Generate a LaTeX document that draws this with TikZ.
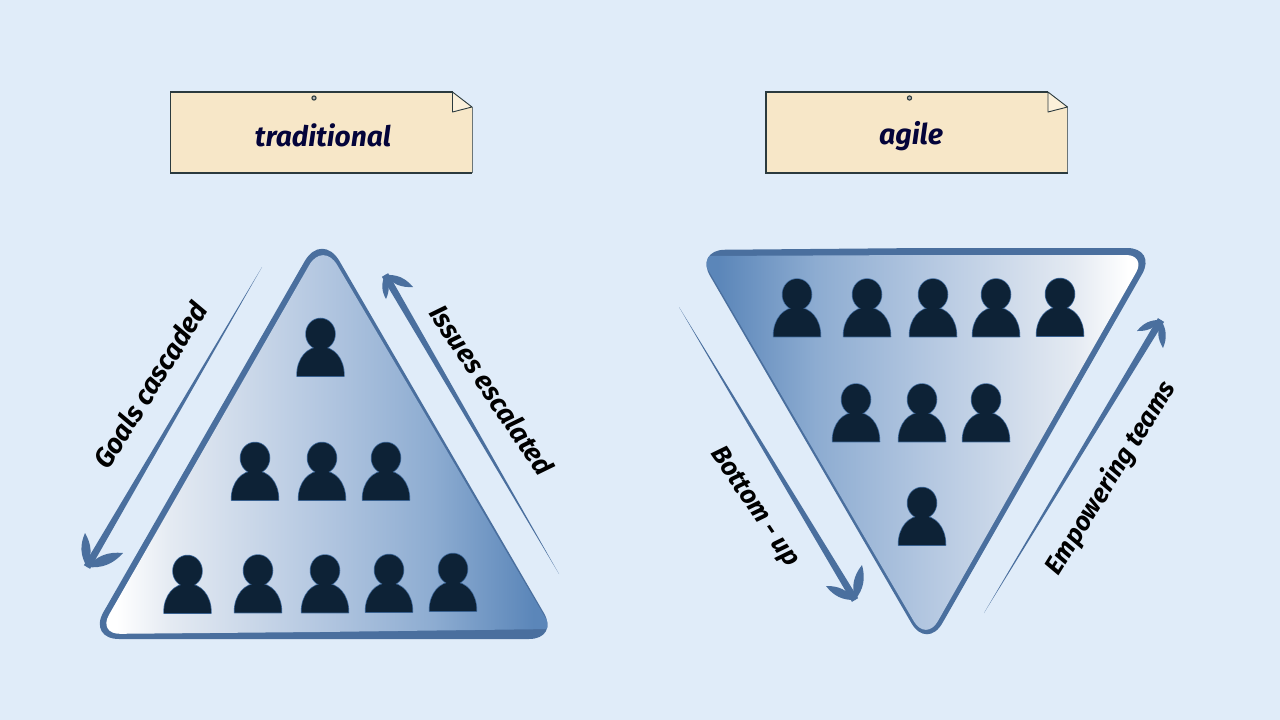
\documentclass[tikz,border=0pt]{standalone}
\usepackage{fontspec}
\usepackage{graphicx}
\setmainfont{Fira Sans}
\usetikzlibrary{calc}
\definecolor{bgc}{HTML}{E0ECF9}
\definecolor{edgec}{HTML}{4A6F9E}
\definecolor{notec}{HTML}{F7E7C8}
\definecolor{foldc}{HTML}{FBF0DA}
\definecolor{linec}{HTML}{2B3A3E}
\definecolor{personc}{HTML}{0D2236}
\definecolor{personedge}{HTML}{3F6A9C}
\definecolor{inkc}{HTML}{04043A}
\definecolor{gA}{HTML}{FFFFFF}
\definecolor{gB}{HTML}{E4EAF2}
\definecolor{gC}{HTML}{B2C6E0}
\definecolor{gD}{HTML}{8DACD1}
\definecolor{gE}{HTML}{5B86B9}
\pgfdeclarehorizontalshading{liftgrad}{100bp}{color(0bp)=(gA); color(27bp)=(gA); color(33bp)=(gB); color(50bp)=(gC); color(62bp)=(gD); color(73bp)=(gE); color(100bp)=(gE)}
\pgfdeclarehorizontalshading{rightgrad}{100bp}{color(0bp)=(gE); color(27bp)=(gE); color(38bp)=(gD); color(50bp)=(gC); color(67bp)=(gB); color(73bp)=(gA); color(100bp)=(gA)}
\tikzset{
  x=1pt,y=-1pt,
  person/.pic={
    \path[draw=personedge,line width=1.5pt,line join=round]
      (-23.5,0) .. controls (-23.5,-18) and (-13,-29) .. (0,-29) .. controls (13,-29) and (23.5,-18) .. (23.5,0) -- cycle;
    \path[draw=personedge,line width=1.5pt] (0,-42) ellipse [x radius=14.5,y radius=15.5];
    \fill[personc] (-23.5,0) .. controls (-23.5,-18) and (-13,-29) .. (0,-29) .. controls (13,-29) and (23.5,-18) .. (23.5,0) -- cycle;
    \fill[personc] (0,-42) ellipse [x radius=14.5,y radius=15.5];
  },
  sketchnote/.pic={
    \path[fill=notec] (0,0) -- (282,0) -- (301.5,15) -- (301.5,81) -- (0,81) -- cycle;
    \draw[linec!70,line width=.7pt] (301.5,15) -- (301.5,81);
    \draw[linec,line width=1.5pt] (301.5,81) -- (0,81) -- (0,0) -- (282,0);
    \draw[linec,line width=.9pt,fill=foldc,line join=round] (282,0) -- (301.5,15) -- (282,20) -- cycle;
    \draw[linec,line width=1.1pt,fill=gray!60] (143.5,6) circle [radius=2.1];
  },
  notelabel/.style={font=\fontsize{30}{34}\selectfont\bfseries\itshape,text=inkc,inner sep=0pt},
  sidelabel/.style={font=\fontsize{27}{30}\selectfont\bfseries\itshape,text=black,inner sep=0pt},
}
\newcommand{\hookarrow}[5]{%
  \fill[edgec] (#1) -- ($(#2)!#5!90:(#1)$) -- ($(#2)!#5!-90:(#1)$) -- cycle;
  \fill[edgec] (#2) to[bend left=27] (#3) to[bend left=27] (#2);
  \fill[edgec] (#2) to[bend left=27] (#4) to[bend left=27] (#2);
}
\newcommand{\leftouter}{(320,639) [rounded corners=31pt] -- (88,639) [rounded corners=35pt] -- (322,231) [rounded corners=30pt] -- (559,639) -- cycle}
\newcommand{\rightouter}{(925,248) [rounded corners=30pt] -- (1157,248) [rounded corners=31pt] -- (927,650) [rounded corners=30pt] -- (695,250) -- cycle}
\begin{document}
\begin{tikzpicture}
\fill[bgc] (0,0) rectangle (1280,720);
\useasboundingbox (0,0) rectangle (1280,720);

% notes
\pic at (170.5,92) {sketchnote};
\pic at (766,92) {sketchnote};
\node[notelabel] (titleA) at (323,135) {\resizebox{136pt}{!}{traditional}};
\node[notelabel] (titleB) at (911,136.5) {\resizebox{64pt}{!}{agile}};

% left triangle
\fill[edgec] \leftouter;
\begin{scope}
  \clip \leftouter;
  \shade[shading=liftgrad] (320,632) [rounded corners=22pt] -- (98,634) [rounded corners=28pt] -- (323,241) [rounded corners=7pt] -- (552,629) -- cycle;
\end{scope}

% right triangle
\fill[edgec] \rightouter;
\begin{scope}
  \clip \rightouter;
  \shade[shading=rightgrad] (925,255) [rounded corners=20pt] -- (1146,255) [rounded corners=24pt] -- (926,642) [rounded corners=7pt] -- (700,256) -- cycle;
\end{scope}

% people, left
\foreach \px/\py in {320.5/376,255/500,322/500,386/500,187.5/613,258/612.5,325/612.5,389/612,453/611}
  \pic at (\px,\py) {person};
% people, right
\foreach \px/\py in {797/336.5,867/336.5,933/336.5,996/336.5,1060/336,856/441.5,922/441.5,986/441.5,922/545}
  \pic at (\px,\py) {person};

% arrows
\coordinate (goalsTail) at (262,267);
\coordinate (goalsTip) at (87,567);
\coordinate (goalsB1) at (85,533);
\coordinate (goalsB2) at (123,553);
\hookarrow{goalsTail}{goalsTip}{goalsB1}{goalsB2}{3.6pt}
\coordinate (issuesTail) at (559,574);
\coordinate (issuesTip) at (385,275);
\coordinate (issuesB1) at (413,287);
\coordinate (issuesB2) at (386,299);
\hookarrow{issuesTail}{issuesTip}{issuesB1}{issuesB2}{3.6pt}
\coordinate (bottomTail) at (679,307);
\coordinate (bottomTip) at (855,600);
\coordinate (bottomB1) at (862,565);
\coordinate (bottomB2) at (826,586);
\hookarrow{bottomTail}{bottomTip}{bottomB1}{bottomB2}{3.6pt}
\coordinate (emTail) at (984,613);
\coordinate (emTip) at (1161,320);
\coordinate (emB1) at (1137,331);
\coordinate (emB2) at (1163,348);
\hookarrow{emTail}{emTip}{emB1}{emB2}{3.6pt}

% labels
\node[sidelabel,rotate=58] (goals) at (150,385) {\resizebox{190pt}{!}{Goals cascaded}};
\node[sidelabel,rotate=-56] (issues) at (492,390) {\resizebox{198pt}{!}{Issues escalated}};
\node[sidelabel,rotate=-56] (bottom) at (754,507) {\resizebox{138pt}{!}{Bottom - up}};
\node[sidelabel,rotate=58] (empower) at (1111,478) {\resizebox{222pt}{!}{Empowering teams}};
\end{tikzpicture}
\end{document}
